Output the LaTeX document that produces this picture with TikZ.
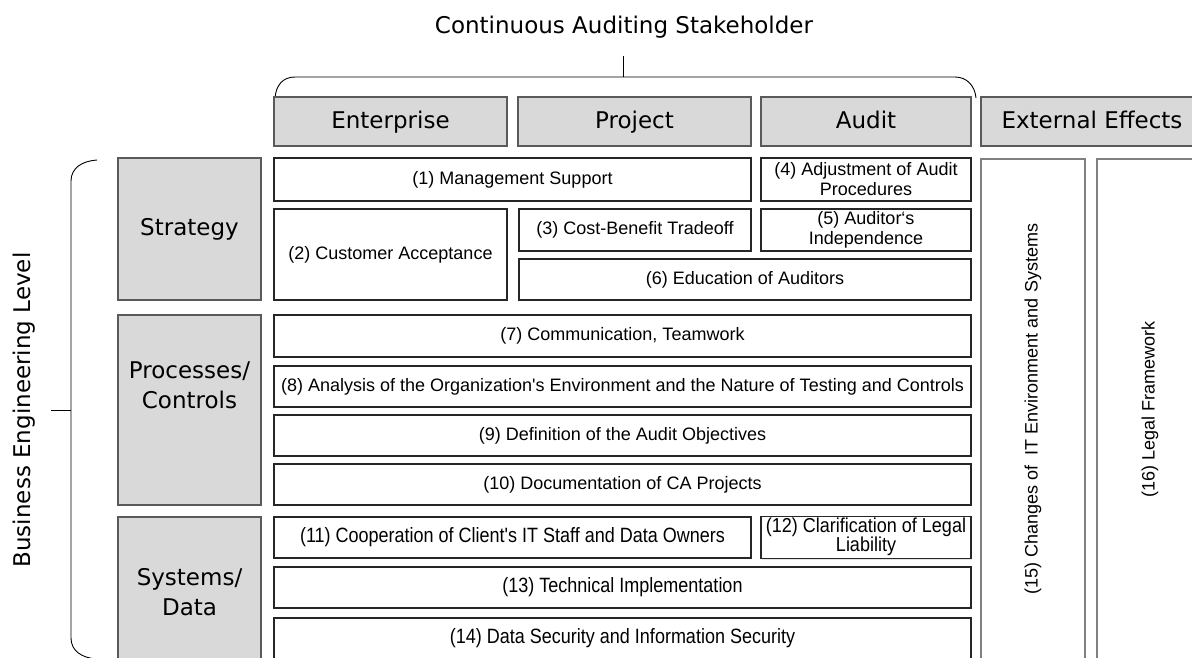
\documentclass[tikz,border=0pt]{standalone}
\usepackage{fontspec}
\usepackage{graphicx}
\usetikzlibrary{shadows}
\newfontfamily\arialf{Liberation Sans}
\newfontfamily\verdf{DejaVu Sans}
\definecolor{hgray}{HTML}{D9D9D9}
\definecolor{shadowc}{HTML}{B9C4D4}
\definecolor{edge}{HTML}{262626}
\definecolor{hedge}{HTML}{5A5A5A}
\definecolor{xedge}{HTML}{808080}
\newcommand{\narrowtxt}[1]{\scalebox{1}[1.15]{#1}}
\begin{document}
\begin{tikzpicture}[x=1pt,y=-1pt,
  soft/.style={drop shadow={shadow xshift=1.4pt,shadow yshift=-1.4pt,fill=shadowc,opacity=.45}},
  cell/.style={draw=edge,line width=1.1pt,fill=white,inner sep=0pt,outer sep=0pt,
    align=center,font=\arialf\fontsize{18}{20}\selectfont,soft},
  hdr/.style={draw=hedge,line width=1.1pt,fill=hgray,inner sep=0pt,outer sep=0pt,
    text height=18pt,text depth=4pt,
    font=\verdf\fontsize{23}{27}\selectfont,soft},
  lvl/.style={draw=hedge,line width=1.1pt,fill=hgray,inner sep=0pt,outer sep=0pt,soft},
  lvltxt/.style={font=\verdf\fontsize{23}{30}\selectfont,align=center,inner sep=0pt},
  ext/.style={draw=xedge,line width=1.1pt,fill=white,inner sep=0pt,outer sep=0pt,soft},
  exttxt/.style={font=\arialf\fontsize{18}{20}\selectfont,rotate=90,inner sep=0pt},
  brace/.style={line width=0.9pt,draw=black}
]
\useasboundingbox (0,0) rectangle (1192,657);
\clip (0,0) rectangle (1192,657);

% title and top brace
\node[font=\verdf\fontsize{23}{27}\selectfont,anchor=base] (title) at (624,33) {Continuous Auditing Stakeholder};
\coordinate (ttop) at (623,56);
\coordinate (tjoin) at (623,77);
\draw[brace] (275,98) .. controls (276,85) and (283,77) .. (295,77) -- (955,77)
  .. controls (967,77) and (975,86) .. (976,98);
\draw[brace] (ttop) -- (tjoin);

% stakeholder headers
\node[hdr,minimum width=233pt,minimum height=49pt] (hEnt)  at (390.5,121.5) {Enterprise};
\node[hdr,minimum width=233pt,minimum height=49pt] (hProj) at (634.5,121.5) {Project};
\node[hdr,minimum width=210pt,minimum height=49pt] (hAud)  at (866,121.5)   {Audit};
\node[hdr,minimum width=222pt,minimum height=49pt] (hExt)  at (1092,121.5)  {External Effects};

% side label and left brace
\node[font=\verdf\fontsize{23}{27}\selectfont,rotate=90] (side) at (24,410) {Business Engineering Level};
\coordinate (ltick) at (51,410);
\coordinate (ljoin) at (71,410);
\draw[brace] (97,160) .. controls (82,161) and (71,168) .. (71,181) -- (71,638)
  .. controls (71,651) and (82,658) .. (97,659);
\draw[brace] (ltick) -- (ljoin);

% engineering levels
\node[lvl,minimum width=143pt,minimum height=142pt] (sStr) at (189.5,229) {};
\node[lvltxt] (tStr) at (189.5,229) {Strategy};
\node[lvl,minimum width=143pt,minimum height=190pt] (sPro) at (189.5,410) {};
\node[lvltxt] (tPro) at (189.5,385) {Processes/\\Controls};
\node[lvl,minimum width=143pt,minimum height=183pt] (sSys) at (189.5,608.5) {};
\node[lvltxt] (tSys) at (189.5,592) {Systems/\\Data};

% strategy challenges
\node[cell,minimum width=477pt,minimum height=43pt] (c1) at (512.5,179.5) {(1) Management Support};
\node[cell,minimum width=210pt,minimum height=43pt] (c4) at (866,179.5) {(4) Adjustment of Audit\\Procedures};
\node[cell,minimum width=233pt,minimum height=91pt] (c2) at (390.5,254.5) {(2) Customer Acceptance};
\node[cell,minimum width=232pt,minimum height=42pt] (c3) at (635,230) {(3) Cost-Benefit Tradeoff};
\node[cell,minimum width=210pt,minimum height=42pt] (c5) at (866,230) {(5) Auditor‘s\\Independence};
\node[cell,minimum width=452pt,minimum height=41pt] (c6) at (745,279.5) {(6) Education of Auditors};

% process and control challenges
\node[cell,minimum width=697pt,minimum height=42pt] (c7)  at (622.5,336)   {(7) Communication, Teamwork};
\node[cell,minimum width=697pt,minimum height=41pt] (c8)  at (622.5,386.5) {(8) Analysis of the Organization's Environment and the Nature of Testing and Controls};
\node[cell,minimum width=697pt,minimum height=41pt] (c9)  at (622.5,435.5) {(9) Definition of the Audit Objectives};
\node[cell,minimum width=697pt,minimum height=41pt] (c10) at (622.5,484.5) {(10) Documentation of CA Projects};

% system and data challenges
\node[cell,minimum width=477pt,minimum height=41pt] (c11) at (512.5,537.5) {\narrowtxt{(11) Cooperation of Client's IT Staff and Data Owners}};
\node[cell,minimum width=210pt,minimum height=41pt] (c12) at (866,537.5)
  {\scalebox{1}[1.12]{\begin{tabular}{@{}c@{}}(12) Clarification of Legal\\[-3pt]Liability\end{tabular}}};
\node[cell,minimum width=697pt,minimum height=41pt] (c13) at (622.5,587.5) {\narrowtxt{(13) Technical Implementation}};
\node[cell,minimum width=697pt,minimum height=41pt] (c14) at (622.5,638.5) {\narrowtxt{(14) Data Security and Information Security}};

% external effects
\node[ext,minimum width=104pt,minimum height=541pt] (c15) at (1033,429.5) {};
\node[exttxt] (t15) at (1033,409) {(15) Changes of\ \ IT Environment and Systems};
\node[ext,minimum width=106pt,minimum height=541pt] (c16) at (1150,429.5) {};
\node[exttxt] (t16) at (1150,409.5) {(16) Legal Framework};
\end{tikzpicture}
\end{document}
